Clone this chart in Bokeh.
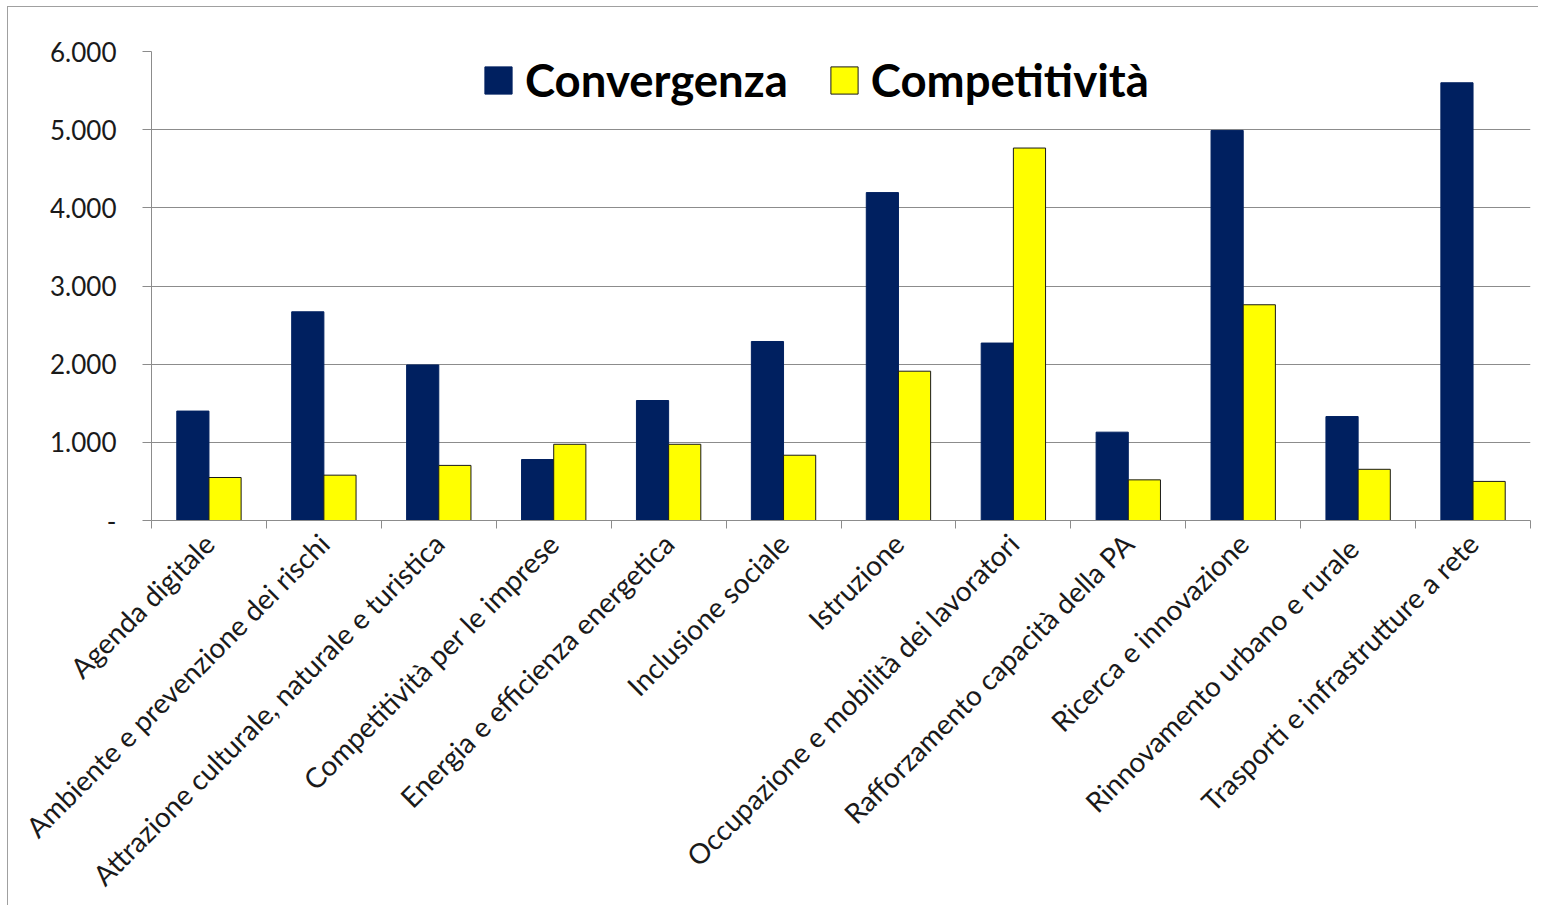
import math
from bokeh.plotting import figure
from bokeh.models import (Range1d, LinearAxis, FixedTicker, Legend, LegendItem, ColumnDataSource)
from bokeh.transform import dodge
from bokeh.embed import file_html
from bokeh.resources import INLINE

categories = [
    "Agenda digitale",
    "Ambiente e prevenzione dei rischi",
    "Attrazione culturale, naturale e turistica",
    "Competitività per le imprese",
    "Energia e efficienza energetica",
    "Inclusione sociale",
    "Istruzione",
    "Occupazione e mobilità dei lavoratori",
    "Rafforzamento capacità della PA",
    "Ricerca e innovazione",
    "Rinnovamento urbano  e rurale",
    "Trasporti e infrastrutture a rete",
]
convergenza = [1400, 2670, 1990, 780, 1535, 2290, 4195, 2270, 1130, 4990, 1330, 5600]
competitivita = [550, 580, 705, 975, 975, 835, 1910, 4765, 520, 2760, 655, 500]
y_ticks = [0, 1000, 2000, 3000, 4000, 5000, 6000]
y_tick_labels = ["-", "1.000", "2.000", "3.000", "4.000", "5.000", "6.000"]
series_names = ["Convergenza", "Competitività"]

FONT = "Lato"
GRID = "#8c8c8c"
NAVY = "#002060"
YELLOW = "#FFFF00"

n = len(categories)
centers = [i + 0.5 for i in range(n)]
src = ColumnDataSource(dict(pos=centers, conv=convergenza, comp=competitivita))

p = figure(width=1531, height=899, x_range=Range1d(0, n),
           y_range=Range1d(0, 6000), output_backend="svg", toolbar_location=None,
           x_axis_location=None, y_axis_location=None,
           min_border_left=143, min_border_top=44, min_border_right=9, min_border_bottom=386)
p.outline_line_color = None
p.styles = {"border-left": "1px solid #a0a0a0", "border-top": "1px solid #a0a0a0",
            "margin-left": "7px", "margin-top": "6px"}
p.xgrid.grid_line_color = None
p.ygrid.grid_line_color = GRID
p.ygrid.ticker = FixedTicker(ticks=y_ticks)

bw = 0.28
r1 = p.vbar(x=dodge("pos", -bw / 2), top="conv", width=bw, source=src,
            fill_color=NAVY, line_color=NAVY)
r2 = p.vbar(x=dodge("pos", bw / 2), top="comp", width=bw, source=src,
            fill_color=YELLOW, line_color="#1a1a1a", line_width=1)

# y axis
yax = LinearAxis(ticker=FixedTicker(ticks=y_ticks),
                 major_label_overrides={t: l for t, l in zip(y_ticks, y_tick_labels)})
yax.axis_line_color = GRID
yax.major_tick_line_color = GRID
yax.major_tick_out = 9
yax.major_tick_in = 0
yax.minor_tick_line_color = None
yax.major_label_standoff = 26
yax.major_label_text_font = FONT
yax.major_label_text_font_size = "26px"
yax.major_label_text_color = "#1a1a1a"
p.add_layout(yax, "left")

# x tick axis at category boundaries
bounds = list(range(n + 1))
tax = LinearAxis(ticker=FixedTicker(ticks=bounds),
                 major_label_overrides={b: "" for b in bounds})
tax.axis_line_color = GRID
tax.major_tick_line_color = GRID
tax.major_tick_out = 8
tax.major_tick_in = 0
tax.minor_tick_line_color = None
tax.major_label_text_font_size = "1px"
tax.major_label_standoff = 0
p.add_layout(tax, "below")

# category labels
cax = LinearAxis(ticker=FixedTicker(ticks=centers),
                 major_label_overrides={c: lab for c, lab in zip(centers, categories)})
cax.axis_line_color = None
cax.major_tick_line_color = None
cax.minor_tick_line_color = None
cax.major_label_orientation = math.pi / 4
cax.major_label_standoff = 4
cax.major_label_text_font = FONT
cax.major_label_text_font_size = "28px"
cax.major_label_text_color = "#1a1a1a"
p.add_layout(cax, "below")

legend = Legend(items=[LegendItem(label=series_names[0], renderers=[r1]),
                       LegendItem(label=series_names[1], renderers=[r2])],
                orientation="horizontal", location=(330, 413))
legend.border_line_color = None
legend.background_fill_alpha = 0
legend.padding = 0
legend.margin = 0
legend.spacing = 39
legend.glyph_width = 34
legend.glyph_height = 34
legend.label_standoff = 10
legend.label_text_font = FONT
legend.label_text_font_style = "bold"
legend.label_text_font_size = "45.5px"
legend.label_text_color = "#000000"
p.add_layout(legend, "center")

open("out.html", "w").write(file_html(p, INLINE))
